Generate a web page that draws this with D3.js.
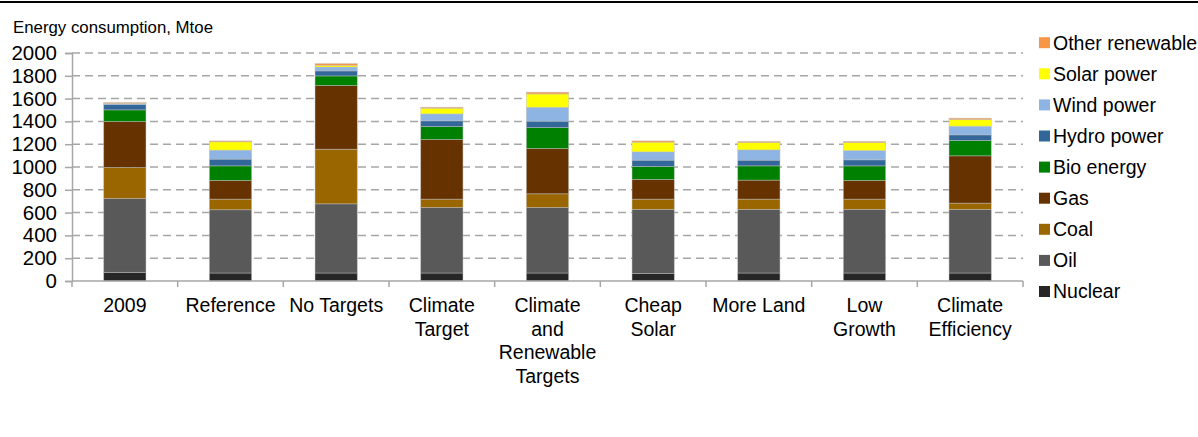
<!DOCTYPE html>
<html><head><meta charset="utf-8">
<script src="https://cdn.jsdelivr.net/npm/d3@7/dist/d3.min.js"></script>
<style>body{margin:0;background:#fff;overflow:hidden}svg{display:block;font-family:"Liberation Sans",Arial,sans-serif}</style>
</head><body><svg id="c" width="1198" height="437"></svg>
<script>
const categories = ["2009","Reference","No Targets","Climate Target","Climate and Renewable Targets","Cheap Solar","More Land","Low Growth","Climate Efficiency"];
const categoryLines = [["2009"],["Reference"],["No Targets"],["Climate","Target"],["Climate","and","Renewable","Targets"],["Cheap","Solar"],["More Land"],["Low","Growth"],["Climate","Efficiency"]];
const seriesNames = ["Nuclear","Oil","Coal","Gas","Bio energy","Hydro power","Wind power","Solar power","Other renewable"];
const nuclear   = [76, 70, 70, 70, 70, 67, 70, 70, 70];
const oil       = [648, 555, 607, 575, 575, 561, 558, 558, 558];
const coal      = [272, 93, 479, 73, 120, 90, 90, 90, 55];
const gas       = [403, 164, 558, 523, 397, 173, 167, 164, 415];
const bio       = [102, 128, 85, 114, 184, 114, 125, 128, 135];
const hydro     = [48, 59, 44, 50, 56, 55, 50, 53, 49];
const wind      = [8, 79, 34, 61, 122, 73, 90, 82, 76];
const solar     = [2, 73, 15, 50, 117, 85, 65, 70, 59];
const other     = [6, 8, 15, 8, 15, 11, 9, 9, 11];
const yTicks = [0,200,400,600,800,1000,1200,1400,1600,1800,2000];
const colors = ["#262626","#595959","#996600","#663300","#008000","#336699","#8DB4E2","#FFFF00","#F79646"];
const seriesValues = [nuclear, oil, coal, gas, bio, hydro, wind, solar, other];

const rows = categories.map((c,i)=>{const r={cat:c}; seriesNames.forEach((s,j)=>r[s]=seriesValues[j][i]); return r;});
const svg = d3.select("#c");
const x = d3.scaleBand().domain(categories).range([72,1023]).padding(0);
const y = d3.scaleLinear().domain([0,2000]).range([281,53]);

// top rule
svg.append("rect").attr("x",0).attr("y",1).attr("width",1198).attr("height",2).attr("fill","#000");

// title
svg.append("text").attr("x",13).attr("y",33).attr("font-size",16.5).attr("textLength",200).attr("lengthAdjust","spacingAndGlyphs").attr("fill","#000").text("Energy consumption, Mtoe");

// gridlines
svg.append("g").selectAll("line").data(yTicks.filter(d=>d>0)).join("line")
  .attr("x1",72).attr("x2",1023).attr("y1",d=>y(d)).attr("y2",d=>y(d))
  .attr("stroke","#a6a6a6").attr("stroke-width",1.5).attr("stroke-dasharray","8,5");

// y axis
const ya = svg.append("g").attr("transform","translate(72,0)").call(d3.axisLeft(y).tickValues(yTicks).tickFormat(d3.format("d")).tickSize(7).tickPadding(8));
ya.select(".domain").attr("stroke","#a6a6a6").attr("stroke-width",1.5);
ya.selectAll(".tick line").attr("stroke","#a6a6a6").attr("stroke-width",1.5);
ya.selectAll("text").attr("font-size",20.5).attr("font-family","Liberation Sans, Arial, sans-serif").attr("fill","#000").attr("x",-15);

// bars
const stack = d3.stack().keys(seriesNames)(rows);
const bw = x.bandwidth();
svg.append("g").selectAll("g").data(stack).join("g").attr("fill",(d,i)=>colors[i])
  .selectAll("rect").data(d=>d).join("rect")
  .attr("x",d=>x(d.data.cat)+bw*0.3).attr("width",bw*0.4)
  .attr("y",d=>y(d[1])).attr("height",d=>y(d[0])-y(d[1]))
  .attr("stroke","#c0c0c0").attr("stroke-width",0.75).attr("stroke-opacity",0.6);

// x axis
svg.append("line").attr("x1",72).attr("x2",1023).attr("y1",281).attr("y2",281).attr("stroke","#a6a6a6").attr("stroke-width",1.5);
const bounds = categories.map(c=>x(c)).concat([x(categories[categories.length-1])+bw]);
svg.append("g").selectAll("line").data(bounds).join("line")
  .attr("x1",d=>d).attr("x2",d=>d).attr("y1",281).attr("y2",287).attr("stroke","#a6a6a6").attr("stroke-width",1.5);
const xl = svg.append("g").selectAll("text").data(categories).join("text")
  .attr("x",d=>x(d)+bw/2).attr("y",312).attr("text-anchor","middle").attr("font-size",19.5).attr("fill","#000");
xl.each(function(d,i){const t=d3.select(this); categoryLines[i].forEach((l,k)=>t.append("tspan").attr("x",x(d)+bw/2).attr("dy",k===0?0:23.7).text(l));});

// legend (reverse order)
const legendOrder = seriesNames.map((s,i)=>i).reverse();
const lg = svg.append("g").selectAll("g").data(legendOrder).join("g")
  .attr("transform",(d,k)=>`translate(1039,${42.7+k*31.1})`);
lg.append("rect").attr("x",0).attr("y",-5.5).attr("width",11).attr("height",11).attr("fill",d=>colors[d]);
lg.append("text").attr("x",14).attr("y",0).attr("dy","0.35em").attr("font-size",19.5).attr("fill","#000").text(d=>seriesNames[d]);
</script></body></html>
